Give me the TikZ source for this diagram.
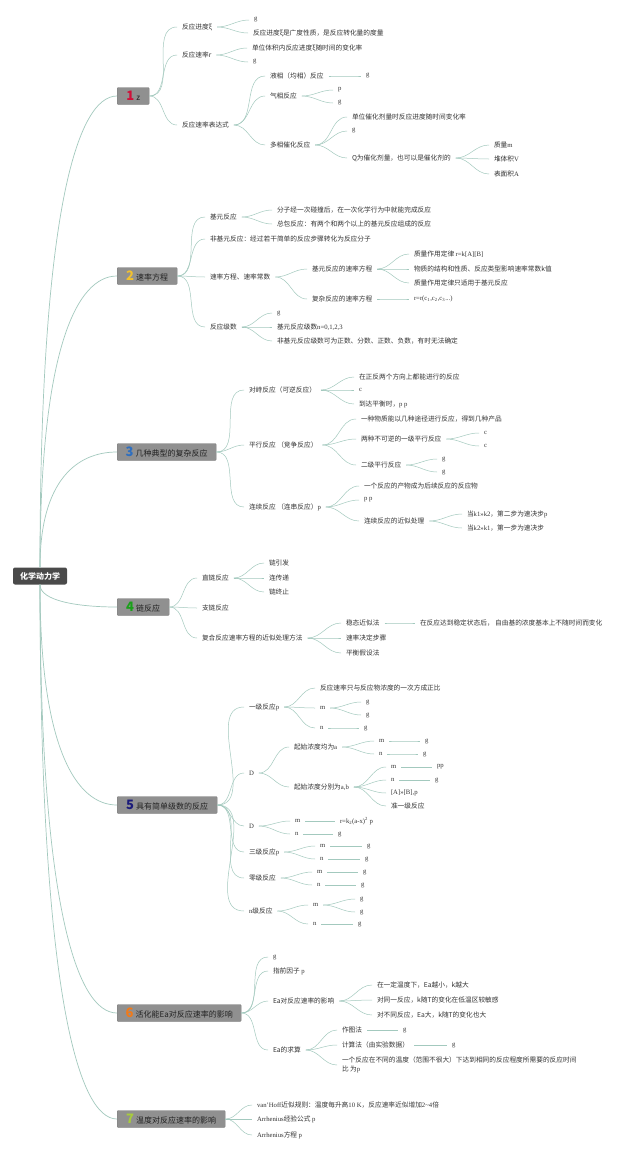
\documentclass[tikz,border=0pt]{standalone}
\usepackage{fontspec}
\setmainfont{Liberation Serif}
\newfontfamily\cjk{Noto Sans CJK SC}
\usepackage{xcolor}
\usepackage{tikz}
\usetikzlibrary{positioning}

\definecolor{lc}{HTML}{A3C9BE}
\definecolor{rootgray}{HTML}{4A4A4A}
\definecolor{secgray}{HTML}{909090}
\definecolor{secline}{HTML}{7A7A7A}
\definecolor{sectext}{HTML}{222222}
\definecolor{txt}{HTML}{333333}
\definecolor{n1}{HTML}{D0103A}
\definecolor{n2}{HTML}{F2C12E}
\definecolor{n3}{HTML}{2E6FC0}
\definecolor{n4}{HTML}{1AA01A}
\definecolor{n5}{HTML}{1B1B7A}
\definecolor{n6}{HTML}{F07A1A}
\definecolor{n7}{HTML}{A8CC3C}

\newcommand\lat[1]{{\rmfamily #1}}
\newcommand\secnum[2]{{\fontsize{13}{13}\selectfont\bfseries\color{#1}#2}\hspace{2pt}}

\begin{document}
\begin{tikzpicture}[x=1pt, y=1pt,
    root/.style={rectangle, rounded corners=2pt, fill=rootgray, text=white, minimum width=54pt, minimum height=17pt, font=\cjk\fontsize{8}{9}\selectfont\bfseries},
    sec/.style={rectangle, rounded corners=1pt, draw=secline, fill=secgray, text=sectext, anchor=west, minimum height=17pt, inner xsep=6pt, inner ysep=0pt, font=\cjk\fontsize{8}{9}\selectfont},
    item/.style={anchor=west, inner xsep=3pt, inner ysep=1pt, outer xsep=2pt, text=txt, font=\cjk\fontsize{6.7}{8.5}\selectfont},
    curve/.style={draw=lc, line width=0.5pt, out=0, in=180},
    trunk/.style={draw=lc, line width=0.7pt}
]
\fill[white] (0,0) rectangle (640,-1154);
\useasboundingbox (0,0) rectangle (640,-1154);

% Root
\node[root] (root) at (40,-576) {化学动力学};

% Section boxes
\node[sec, minimum width=32pt] (sec1) at (117,-96) {\secnum{n1}{1}z};
\node[sec, minimum width=60pt] (sec2) at (117,-276) {\secnum{n2}{2}速率方程};
\node[sec, minimum width=99pt] (sec3) at (117,-452) {\secnum{n3}{3}几种典型的复杂反应};
\node[sec, minimum width=52pt] (sec4) at (117,-607) {\secnum{n4}{4}链反应};
\node[sec, minimum width=100pt] (sec5) at (117,-805) {\secnum{n5}{5}具有简单级数的反应};
\node[sec, minimum width=124pt] (sec6) at (117,-1013) {\secnum{n6}{6}活化能Ea对反应速率的影响};
\node[sec, minimum width=108pt] (sec7) at (117,-1119) {\secnum{n7}{7}温度对反应速率的影响};

% Section 1
\node[item] (jindu) at (177,-27) {反应进度ξ};
\node[item] (jindu-a) at (249,-20) {\lat{g}};
\node[item] (jindu-b) at (248,-33) {反应进度ξ是广度性质，是反应转化量的度量};
\node[item] (sulv) at (177,-55) {反应速率r};
\node[item] (sulv-a) at (247,-48) {单位体积内反应进度ξ随时间的变化率};
\node[item] (sulv-b) at (248,-62) {\lat{g}};
\node[item] (bds) at (177,-125) {反应速率表达式};
\node[item] (yexiang) at (265,-76) {液相（均相）反应};
\node[item] (yexiang-a) at (361,-76) {\lat{g}};
\node[item] (qixiang) at (265,-96) {气相反应};
\node[item] (qixiang-a) at (333,-90) {\lat{p}};
\node[item] (qixiang-b) at (333,-103) {\lat{g}};
\node[item] (duoxiang) at (265,-145) {多相催化反应};
\node[item] (duoxiang-a) at (347,-117) {单位催化剂量时反应进度随时间变化率};
\node[item] (duoxiang-b) at (347,-131) {\lat{g}};
\node[item] (duoxiang-c) at (347,-158) {Q为催化剂量，也可以是催化剂的};
\node[item] (zhiliang) at (489,-145) {质量\lat{m}};
\node[item] (duiji) at (489,-159) {堆体积\lat{V}};
\node[item] (biaomian) at (489,-174) {表面积\lat{A}};

% Section 2
\node[item] (jiyuan) at (205,-217) {基元反应};
\node[item] (jiyuan-a) at (272,-210) {分子经一次碰撞后，在一次化学行为中就能完成反应};
\node[item] (jiyuan-b) at (272,-224) {总包反应：有两个和两个以上的基元反应组成的反应};
\node[item] (feijiyuan) at (205,-239) {非基元反应：经过若干简单的反应步骤转化为反应分子};
\node[item] (fangcheng) at (205,-277) {速率方程、速率常数};
\node[item] (jyfc) at (307,-269) {基元反应的速率方程};
\node[item] (jyfc-a) at (409,-254) {质量作用定律 \lat{r=k[A][B]}};
\node[item] (jyfc-b) at (409,-269) {物质的结构和性质、反应类型影响速率常数k值};
\node[item] (jyfc-c) at (409,-283) {质量作用定律只适用于基元反应};
\node[item] (fzfc) at (307,-299) {复杂反应的速率方程};
\node[item] (fzfc-a) at (409,-299) {\lat{r=r(c\textsubscript{1},c\textsubscript{2},c\textsubscript{3}...)}};
\node[item] (jishu) at (205,-327) {反应级数};
\node[item] (jishu-a) at (272,-313) {\lat{g}};
\node[item] (jishu-b) at (272,-327) {基元反应级数\lat{n=0,1,2,3}};
\node[item] (jishu-c) at (272,-341) {非基元反应级数可为正数、分数、正数、负数，有时无法确定};

% Section 3
\node[item] (duizhi) at (244,-390) {对峙反应（可逆反应）};
\node[item] (duizhi-a) at (354,-377) {在正反两个方向上都能进行的反应};
\node[item] (duizhi-b) at (354,-390) {\lat{c}};
\node[item] (duizhi-c) at (354,-404) {到达平衡时，\lat{p p}};
\node[item] (pingxing) at (244,-445) {平行反应 （竞争反应）};
\node[item] (pingxing-a) at (356,-419) {一种物质能以几种途径进行反应，得到几种产品};
\node[item] (yiji) at (356,-439) {两种不可逆的一级平行反应};
\node[item] (yiji-a) at (479,-433) {\lat{c}};
\node[item] (yiji-b) at (479,-446) {\lat{c}};
\node[item] (erji) at (356,-465) {二级平行反应};
\node[item] (erji-a) at (437,-459) {\lat{g}};
\node[item] (erji-b) at (437,-472) {\lat{g}};
\node[item] (lianxu) at (244,-507) {连续反应 （连串反应）\lat{p}};
\node[item] (lianxu-a) at (359,-486) {一个反应的产物成为后续反应的反应物};
\node[item] (lianxu-b) at (359,-500) {\lat{p p}};
\node[item] (jinsi) at (359,-521) {连续反应的近似处理};
\node[item] (jinsi-a) at (462,-514) {当\lat{k1>>k2}，第二步为速决步\lat{p}};
\node[item] (jinsi-b) at (462,-528) {当\lat{k2>>k1}，第一步为速决步};

% Section 4
\node[item] (zhilian) at (197,-578) {直链反应};
\node[item] (yinfa) at (264,-563) {链引发};
\node[item] (chuandi) at (264,-578) {连传递};
\node[item] (zhongzhi) at (264,-592) {链终止};
\node[item] (zhilian2) at (197,-608) {支链反应};
\node[item] (fuhe) at (197,-638) {复合反应速率方程的近似处理方法};
\node[item] (wentai) at (341,-623) {稳态近似法};
\node[item] (wentai-a) at (415,-623) {在反应达到稳定状态后， 自由基的浓度基本上不随时间而变化};
\node[item] (jueding) at (341,-638) {速率决定步骤};
\node[item] (pingheng) at (341,-653) {平衡假设法};

% Section 5
\node[item] (yiji1) at (244,-707) {一级反应\lat{p}};
\node[item] (yiji1-a) at (315,-688) {反应速率只与反应物浓度的一次方成正比};
\node[item] (yiji1-m) at (315,-708) {\lat{m}};
\node[item] (yiji1-m1) at (361,-702) {\lat{g}};
\node[item] (yiji1-m2) at (361,-715) {\lat{g}};
\node[item] (yiji1-n) at (315,-728) {\lat{n}};
\node[item] (yiji1-n1) at (359,-728) {\lat{g}};
\node[item] (erji1) at (244,-773) {\lat{D}};
\node[item] (junwei) at (289,-747) {起始浓度均为\lat{a}};
\node[item] (junwei-m) at (374,-741) {\lat{m}};
\node[item] (junwei-m1) at (420,-741) {\lat{g}};
\node[item] (junwei-n) at (374,-754) {\lat{n}};
\node[item] (junwei-n1) at (418,-754) {\lat{g}};
\node[item] (fenbie) at (289,-787) {起始浓度分别为\lat{a,b}};
\node[item] (fenbie-m) at (386,-767) {\lat{m}};
\node[item] (fenbie-m1) at (432,-767) {\lat{pp}};
\node[item] (fenbie-n) at (386,-780) {\lat{n}};
\node[item] (fenbie-n1) at (430,-780) {\lat{g}};
\node[item] (fenbie-c) at (386,-793) {\lat{[A]>>[B],p}};
\node[item] (fenbie-d) at (386,-806) {准一级反应};
\node[item] (erji2) at (244,-826) {\lat{D}};
\node[item] (erji2-m) at (290,-821) {\lat{m}};
\node[item] (erji2-m1) at (335,-821) {\lat{r=k\textsubscript{2}(a-x)\textsuperscript{2} p}};
\node[item] (erji2-n) at (290,-834) {\lat{n}};
\node[item] (erji2-n1) at (333,-834) {\lat{g}};
\node[item] (sanji) at (244,-852) {三级反应\lat{p}};
\node[item] (sanji-m) at (315,-846) {\lat{m}};
\node[item] (sanji-m1) at (362,-846) {\lat{g}};
\node[item] (sanji-n) at (315,-859) {\lat{n}};
\node[item] (sanji-n1) at (360,-859) {\lat{g}};
\node[item] (lingji) at (244,-878) {零级反应};
\node[item] (lingji-m) at (312,-872) {\lat{m}};
\node[item] (lingji-m1) at (358,-872) {\lat{g}};
\node[item] (lingji-n) at (312,-885) {\lat{n}};
\node[item] (lingji-n1) at (356,-885) {\lat{g}};
\node[item] (nji) at (244,-911) {\lat{n}级反应};
\node[item] (nji-m) at (308,-905) {\lat{m}};
\node[item] (nji-m1) at (355,-899) {\lat{g}};
\node[item] (nji-m2) at (355,-912) {\lat{g}};
\node[item] (nji-n) at (308,-924) {\lat{n}};
\node[item] (nji-n1) at (353,-924) {\lat{g}};

% Section 6
\node[item] (huohua-g) at (268,-957) {\lat{g}};
\node[item] (zhiqian) at (268,-971) {指前因子 \lat{p}};
\node[item] (yingxiang) at (268,-1001) {Ea对反应速率的影响};
\node[item] (yingxiang-a) at (372,-985) {在一定温度下，Ea越小，k越大};
\node[item] (yingxiang-b) at (372,-1000) {对同一反应，k随T的变化在低温区较敏感};
\node[item] (yingxiang-c) at (372,-1015) {对不同反应，Ea大，k随T的变化也大};
\node[item] (qiusuan) at (268,-1050) {Ea的求算};
\node[item] (zuotu) at (337,-1030) {作图法};
\node[item] (zuotu-a) at (398,-1030) {\lat{g}};
\node[item] (jisuan) at (337,-1045) {计算法（由实验数据）};
\node[item] (jisuan-a) at (447,-1045) {\lat{g}};
\node[item, align=left] (shijian) at (337,-1065) {一个反应在不同的温度（范围不很大）下达到相同的反应程度所需要的反应时间\\比 为\lat{p}};

% Section 7
\node[item] (vanthoff) at (252,-1105) {\lat{van'Hoff}近似规则：温度每升高\lat{10 K}，反应速率近似增加\lat{2\textasciitilde 4}倍};
\node[item] (arr1) at (252,-1119) {\lat{Arrhenius}经验公式 \lat{p}};
\node[item] (arr2) at (252,-1135) {\lat{Arrhenius}方程 \lat{p}};

% Root to sections
\draw[trunk] (root.north) .. controls +(0,354) and +(-40,0) .. (sec1.west);
\draw[trunk] (root.north) .. controls +(0,219) and +(-40,0) .. (sec2.west);
\draw[trunk] (root.north) .. controls +(0,87) and +(-40,0) .. (sec3.west);
\draw[trunk] (root.south) .. controls +(0,-16) and +(-40,0) .. (sec4.west);
\draw[trunk] (root.south) .. controls +(0,-165) and +(-40,0) .. (sec5.west);
\draw[trunk] (root.south) .. controls +(0,-321) and +(-40,0) .. (sec6.west);
\draw[trunk] (root.south) .. controls +(0,-400) and +(-40,0) .. (sec7.west);

% Section 1 branches
\draw[curve] (sec1.east) to (jindu.west);
\draw[curve] (sec1.east) to (sulv.west);
\draw[curve] (sec1.east) to (bds.west);
\draw[curve] (jindu.east) to (jindu-a.west);
\draw[curve] (jindu.east) to (jindu-b.west);
\draw[curve] (sulv.east) to (sulv-a.west);
\draw[curve] (sulv.east) to (sulv-b.west);
\draw[curve] (bds.east) to (yexiang.west);
\draw[curve] (bds.east) to (qixiang.west);
\draw[curve] (bds.east) to (duoxiang.west);
\draw[curve] (yexiang.east) to (yexiang-a.west);
\draw[curve] (qixiang.east) to (qixiang-a.west);
\draw[curve] (qixiang.east) to (qixiang-b.west);
\draw[curve] (duoxiang.east) to (duoxiang-a.west);
\draw[curve] (duoxiang.east) to (duoxiang-b.west);
\draw[curve] (duoxiang.east) to (duoxiang-c.west);
\draw[curve] (duoxiang-c.east) to (zhiliang.west);
\draw[curve] (duoxiang-c.east) to (duiji.west);
\draw[curve] (duoxiang-c.east) to (biaomian.west);

% Section 2 branches
\draw[curve] (sec2.east) to (jiyuan.west);
\draw[curve] (sec2.east) to (feijiyuan.west);
\draw[curve] (sec2.east) to (fangcheng.west);
\draw[curve] (sec2.east) to (jishu.west);
\draw[curve] (jiyuan.east) to (jiyuan-a.west);
\draw[curve] (jiyuan.east) to (jiyuan-b.west);
\draw[curve] (fangcheng.east) to (jyfc.west);
\draw[curve] (fangcheng.east) to (fzfc.west);
\draw[curve] (jyfc.east) to (jyfc-a.west);
\draw[curve] (jyfc.east) to (jyfc-b.west);
\draw[curve] (jyfc.east) to (jyfc-c.west);
\draw[curve] (fzfc.east) to (fzfc-a.west);
\draw[curve] (jishu.east) to (jishu-a.west);
\draw[curve] (jishu.east) to (jishu-b.west);
\draw[curve] (jishu.east) to (jishu-c.west);

% Section 3 branches
\draw[curve] (sec3.east) to (duizhi.west);
\draw[curve] (sec3.east) to (pingxing.west);
\draw[curve] (sec3.east) to (lianxu.west);
\draw[curve] (duizhi.east) to (duizhi-a.west);
\draw[curve] (duizhi.east) to (duizhi-b.west);
\draw[curve] (duizhi.east) to (duizhi-c.west);
\draw[curve] (pingxing.east) to (pingxing-a.west);
\draw[curve] (pingxing.east) to (yiji.west);
\draw[curve] (pingxing.east) to (erji.west);
\draw[curve] (yiji.east) to (yiji-a.west);
\draw[curve] (yiji.east) to (yiji-b.west);
\draw[curve] (erji.east) to (erji-a.west);
\draw[curve] (erji.east) to (erji-b.west);
\draw[curve] (lianxu.east) to (lianxu-a.west);
\draw[curve] (lianxu.east) to (lianxu-b.west);
\draw[curve] (lianxu.east) to (jinsi.west);
\draw[curve] (jinsi.east) to (jinsi-a.west);
\draw[curve] (jinsi.east) to (jinsi-b.west);

% Section 4 branches
\draw[curve] (sec4.east) to (zhilian.west);
\draw[curve] (sec4.east) to (zhilian2.west);
\draw[curve] (sec4.east) to (fuhe.west);
\draw[curve] (zhilian.east) to (yinfa.west);
\draw[curve] (zhilian.east) to (chuandi.west);
\draw[curve] (zhilian.east) to (zhongzhi.west);
\draw[curve] (fuhe.east) to (wentai.west);
\draw[curve] (fuhe.east) to (jueding.west);
\draw[curve] (fuhe.east) to (pingheng.west);
\draw[curve] (wentai.east) to (wentai-a.west);

% Section 5 branches
\draw[curve] (sec5.east) to (yiji1.west);
\draw[curve] (sec5.east) to (erji1.west);
\draw[curve] (sec5.east) to (erji2.west);
\draw[curve] (sec5.east) to (sanji.west);
\draw[curve] (sec5.east) to (lingji.west);
\draw[curve] (sec5.east) to (nji.west);
\draw[curve] (yiji1.east) to (yiji1-a.west);
\draw[curve] (yiji1.east) to (yiji1-m.west);
\draw[curve] (yiji1.east) to (yiji1-n.west);
\draw[curve] (yiji1-m.east) to (yiji1-m1.west);
\draw[curve] (yiji1-m.east) to (yiji1-m2.west);
\draw[curve] (yiji1-n.east) to (yiji1-n1.west);
\draw[curve] (erji1.east) to (junwei.west);
\draw[curve] (erji1.east) to (fenbie.west);
\draw[curve] (junwei.east) to (junwei-m.west);
\draw[curve] (junwei.east) to (junwei-n.west);
\draw[curve] (junwei-m.east) to (junwei-m1.west);
\draw[curve] (junwei-n.east) to (junwei-n1.west);
\draw[curve] (fenbie.east) to (fenbie-m.west);
\draw[curve] (fenbie.east) to (fenbie-n.west);
\draw[curve] (fenbie.east) to (fenbie-c.west);
\draw[curve] (fenbie.east) to (fenbie-d.west);
\draw[curve] (fenbie-m.east) to (fenbie-m1.west);
\draw[curve] (fenbie-n.east) to (fenbie-n1.west);
\draw[curve] (erji2.east) to (erji2-m.west);
\draw[curve] (erji2.east) to (erji2-n.west);
\draw[curve] (erji2-m.east) to (erji2-m1.west);
\draw[curve] (erji2-n.east) to (erji2-n1.west);
\draw[curve] (sanji.east) to (sanji-m.west);
\draw[curve] (sanji.east) to (sanji-n.west);
\draw[curve] (sanji-m.east) to (sanji-m1.west);
\draw[curve] (sanji-n.east) to (sanji-n1.west);
\draw[curve] (lingji.east) to (lingji-m.west);
\draw[curve] (lingji.east) to (lingji-n.west);
\draw[curve] (lingji-m.east) to (lingji-m1.west);
\draw[curve] (lingji-n.east) to (lingji-n1.west);
\draw[curve] (nji.east) to (nji-m.west);
\draw[curve] (nji.east) to (nji-n.west);
\draw[curve] (nji-m.east) to (nji-m1.west);
\draw[curve] (nji-m.east) to (nji-m2.west);
\draw[curve] (nji-n.east) to (nji-n1.west);

% Section 6 branches
\draw[curve] (sec6.east) to (huohua-g.west);
\draw[curve] (sec6.east) to (zhiqian.west);
\draw[curve] (sec6.east) to (yingxiang.west);
\draw[curve] (sec6.east) to (qiusuan.west);
\draw[curve] (yingxiang.east) to (yingxiang-a.west);
\draw[curve] (yingxiang.east) to (yingxiang-b.west);
\draw[curve] (yingxiang.east) to (yingxiang-c.west);
\draw[curve] (qiusuan.east) to (zuotu.west);
\draw[curve] (qiusuan.east) to (jisuan.west);
\draw[curve] (qiusuan.east) to (shijian.west);
\draw[curve] (zuotu.east) to (zuotu-a.west);
\draw[curve] (jisuan.east) to (jisuan-a.west);

% Section 7 branches
\draw[curve] (sec7.east) to (vanthoff.west);
\draw[curve] (sec7.east) to (arr1.west);
\draw[curve] (sec7.east) to (arr2.west);

\end{tikzpicture}
\end{document}
